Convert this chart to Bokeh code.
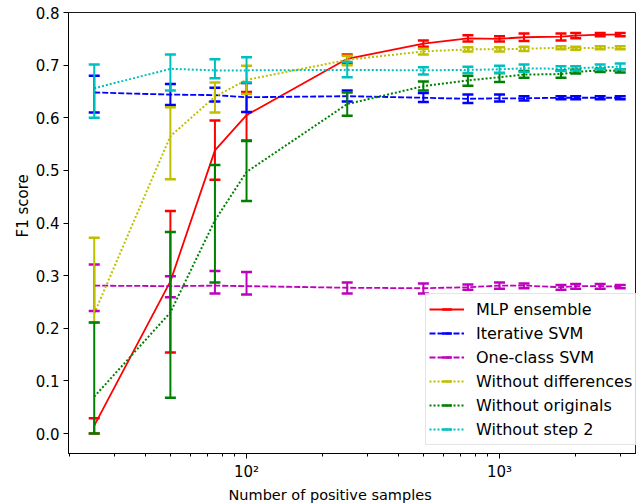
import math
from bokeh.plotting import figure
from bokeh.models import (ColumnDataSource, Whisker, TeeHead, Legend, LegendItem,
                          FixedTicker, NumeralTickFormatter, Range1d, Title)
from bokeh.embed import file_html
from bokeh.resources import INLINE

# ---------------- data ----------------
x_samples = [25, 50, 75, 100, 250, 500, 750, 1000, 1250, 1750, 2000, 2500, 3000]

series_names = ["MLP ensemble", "Iterative SVM", "One-class SVM",
                "Without differences", "Without originals", "Without step 2"]

mlp_mean = [0.015, 0.289, 0.538, 0.605, 0.712, 0.741, 0.751, 0.750, 0.753, 0.754, 0.756, 0.758, 0.758]
mlp_low = [0.000, 0.154, 0.482, 0.557, 0.703, 0.735, 0.745, 0.745, 0.746, 0.747, 0.751, 0.755, 0.755]
mlp_high = [0.029, 0.423, 0.595, 0.649, 0.720, 0.747, 0.757, 0.755, 0.760, 0.760, 0.761, 0.761, 0.761]

isvm_mean = [0.648, 0.644, 0.643, 0.639, 0.641, 0.638, 0.636, 0.637, 0.637, 0.638, 0.638, 0.638, 0.638]
isvm_low = [0.610, 0.624, 0.631, 0.611, 0.631, 0.630, 0.628, 0.631, 0.633, 0.635, 0.635, 0.635, 0.635]
isvm_high = [0.680, 0.664, 0.657, 0.666, 0.652, 0.647, 0.644, 0.644, 0.641, 0.641, 0.641, 0.641, 0.641]

ocsvm_mean = [0.281, 0.280, 0.281, 0.280, 0.277, 0.276, 0.278, 0.281, 0.281, 0.278, 0.280, 0.280, 0.279]
ocsvm_low = [0.233, 0.259, 0.266, 0.264, 0.266, 0.266, 0.273, 0.275, 0.276, 0.273, 0.275, 0.275, 0.276]
ocsvm_high = [0.321, 0.299, 0.309, 0.307, 0.287, 0.285, 0.283, 0.287, 0.285, 0.282, 0.284, 0.284, 0.282]

nodiff_mean = [0.228, 0.565, 0.640, 0.672, 0.710, 0.726, 0.730, 0.730, 0.731, 0.733, 0.732, 0.733, 0.733]
nodiff_low = [0.211, 0.483, 0.610, 0.645, 0.700, 0.720, 0.726, 0.726, 0.727, 0.730, 0.729, 0.730, 0.730]
nodiff_high = [0.372, 0.620, 0.667, 0.699, 0.718, 0.731, 0.734, 0.734, 0.735, 0.736, 0.735, 0.736, 0.736]

noorig_mean = [0.070, 0.230, 0.405, 0.497, 0.626, 0.660, 0.671, 0.677, 0.682, 0.683, 0.687, 0.690, 0.689]
noorig_low = [0.000, 0.068, 0.287, 0.442, 0.604, 0.652, 0.661, 0.668, 0.676, 0.676, 0.684, 0.687, 0.686]
noorig_high = [0.211, 0.383, 0.510, 0.556, 0.648, 0.669, 0.680, 0.685, 0.689, 0.690, 0.691, 0.693, 0.692]

nostep2_mean = [0.656, 0.693, 0.690, 0.690, 0.691, 0.690, 0.691, 0.692, 0.694, 0.693, 0.694, 0.696, 0.697]
nostep2_low = [0.600, 0.652, 0.675, 0.667, 0.677, 0.682, 0.685, 0.685, 0.687, 0.689, 0.690, 0.692, 0.692]
nostep2_high = [0.701, 0.720, 0.711, 0.715, 0.706, 0.696, 0.697, 0.699, 0.701, 0.698, 0.698, 0.701, 0.703]

y_ticks = [0.0, 0.1, 0.2, 0.3, 0.4, 0.5, 0.6, 0.7, 0.8]
x_major_ticks = [100, 1000]
x_major_labels = ["10²", "10³"]
x_minor_ticks = [20, 30, 40, 50, 60, 70, 80, 90, 200, 300, 400, 500, 600, 700, 800, 900, 2000, 3000]

x_title = "Number of positive samples"
y_title = "F1 score"

# ---------------- styles ----------------
FONT = "DejaVu Sans"
styles = [
    ("#ff0000", "solid", 1.8),
    ("#0000ff", "6 2", 1.8),
    ("#bf00bf", "6 2", 1.8),
    ("#bfbf00", "2 2", 2.0),
    ("#008000", "2 2", 2.0),
    ("#00bfbf", "2 2", 2.0),
]
data = [
    (mlp_mean, mlp_low, mlp_high),
    (isvm_mean, isvm_low, isvm_high),
    (ocsvm_mean, ocsvm_low, ocsvm_high),
    (nodiff_mean, nodiff_low, nodiff_high),
    (noorig_mean, noorig_low, noorig_high),
    (nostep2_mean, nostep2_low, nostep2_high),
]

p = figure(width=636, height=504, x_axis_type="log",
           x_range=Range1d(19.78, 3479), y_range=Range1d(-0.038, 0.8),
           output_backend="svg", toolbar_location=None,
           min_border_left=68, min_border_right=0, min_border_top=12, min_border_bottom=51)

p.background_fill_color = "white"
p.border_fill_color = "white"
p.outline_line_color = "black"
p.outline_line_width = 0.9
p.grid.grid_line_color = None

items = []
for name, (color, dash, lw), (mean, low, high) in zip(series_names, styles, data):
    src = ColumnDataSource(dict(x=x_samples, y=mean, lower=low, upper=high))
    line_r = p.line("x", "y", source=src, line_color=color, line_width=lw, line_dash=dash)
    w = Whisker(source=src, base="x", lower="lower", upper="upper", dimension="height",
                line_color=color, line_width=2,
                upper_head=TeeHead(size=11, line_color=color, line_width=2.5),
                lower_head=TeeHead(size=11, line_color=color, line_width=2.5),
                level="glyph")
    p.add_layout(w)
    # zero-size markers: invisible in the plot, they only give the legend its error-bar swatch
    mark_r = p.scatter("x", "y", source=src, marker="dash", angle=math.pi / 2, size=0,
                       line_color=color, line_width=2.5)
    items.append(LegendItem(label=name, renderers=[line_r, mark_r]))

legend = Legend(items=items, location=(357, 8), margin=0, padding=3,
                spacing=0, glyph_width=35, glyph_height=24, label_height=24,
                label_standoff=12, label_text_font=FONT, label_text_font_size="16px",
                label_text_color="black", border_line_color="#cccccc",
                border_line_width=1, background_fill_color="white",
                background_fill_alpha=0.85)
p.add_layout(legend)

# axes
p.xaxis.ticker = FixedTicker(ticks=x_major_ticks, minor_ticks=x_minor_ticks)
p.xaxis.major_label_overrides = {t: lab for t, lab in zip(x_major_ticks, x_major_labels)}
p.yaxis.ticker = FixedTicker(ticks=y_ticks)
p.yaxis.formatter = NumeralTickFormatter(format="0.0")

for ax in p.axis:
    ax.axis_line_color = "black"
    ax.axis_line_width = 0.9
    ax.major_tick_line_color = "black"
    ax.major_tick_in = 0
    ax.major_tick_out = 5
    ax.minor_tick_in = 0
    ax.minor_tick_out = 3
    ax.major_label_text_font = FONT
    ax.major_label_text_font_size = "15px"
    ax.major_label_text_color = "black"
    ax.major_label_standoff = 4
p.xaxis.minor_tick_line_color = "black"
p.yaxis.minor_tick_line_color = None

# axis titles (side titles, offset to sit where the reference has them)
p.add_layout(Title(text=x_title, align="left", offset=160, standoff=2,
                   text_font=FONT, text_font_size="14.5px", text_font_style="normal",
                   text_color="black"), "below")
p.add_layout(Title(text=y_title, align="left", offset=216, standoff=2,
                   text_font=FONT, text_font_size="15px", text_font_style="normal",
                   text_color="black"), "left")

open("out.html", "w").write(file_html(p, INLINE))
